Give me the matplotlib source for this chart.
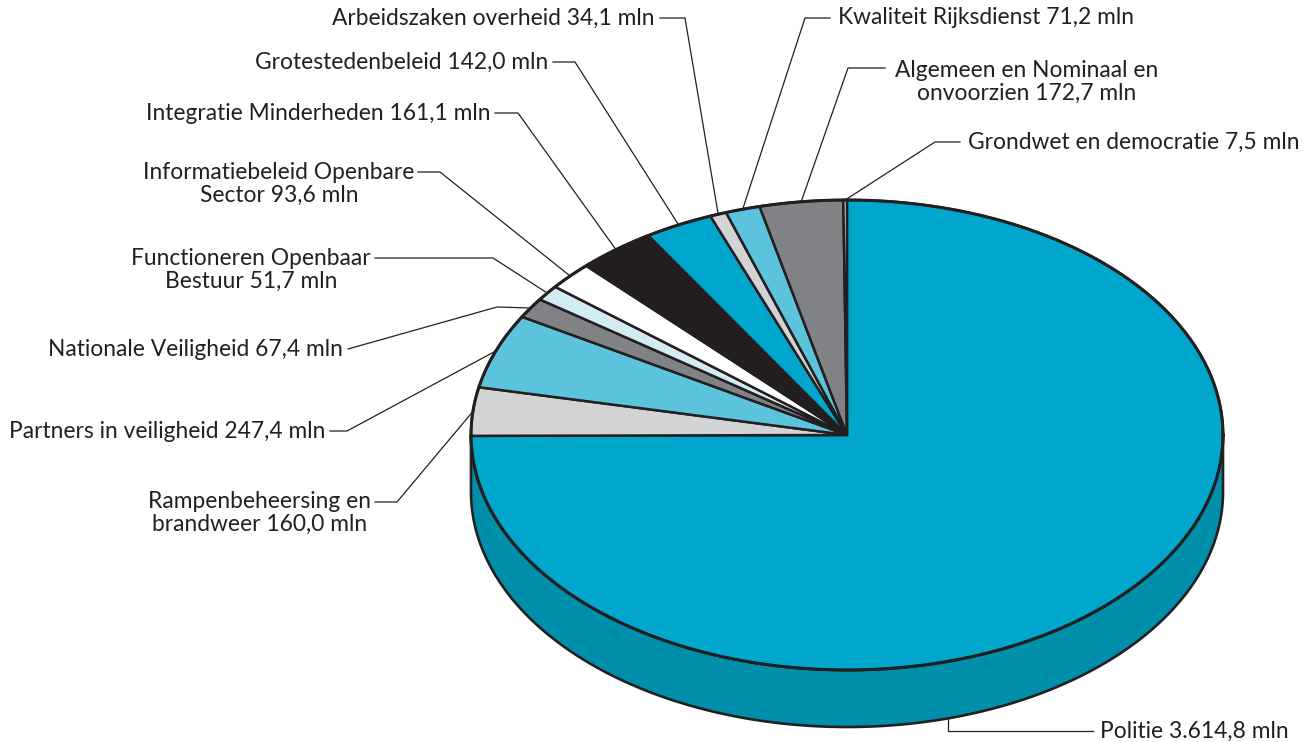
import numpy as np
import matplotlib.pyplot as plt
from matplotlib.patches import Polygon

# Begroting BZK, bedragen in mln euro
names = ["Politie", "Rampenbeheersing en\nbrandweer", "Partners in veiligheid",
         "Nationale Veiligheid", "Functioneren Openbaar\nBestuur",
         "Informatiebeleid Openbare\nSector", "Integratie Minderheden",
         "Grotestedenbeleid", "Arbeidszaken overheid", "Kwaliteit Rijksdienst",
         "Algemeen en Nominaal en\nonvoorzien", "Grondwet en democratie"]
values = [3614.8, 160.0, 247.4, 67.4, 51.7, 93.6, 161.1, 142.0, 34.1, 71.2, 172.7, 7.5]
colors = ["#00a6cb", "#d1d3d4", "#5cc3dc", "#808285", "#d3ecf4", "#ffffff",
          "#231f20", "#00a6cb", "#d1d3d4", "#5cc3dc", "#808285", "#d1d3d4"]
side_color = "#008fab"
ink = "#231f20"

# pie geometry in pixels
cx, cy = 847, 435
rx, ry = 376, 235
depth = 57

# label layout: text anchor, alignment, elbow points of leader line
label_pos = [(1100, 731), (260, 513), (325, 431), (343, 350), (251, 270),
             (279, 184), (490, 113), (548, 62), (655, 18), (838, 18),
             (1027, 82), (968, 142)]
label_ha = ["left", "center", "right", "right", "center", "center", "right",
            "right", "right", "left", "center", "left"]
elbows = [[(1093, 731), (948, 731)], [(375, 502), (397, 502)],
          [(330, 431), (347, 431)], [(348, 349), (497, 307)],
          [(375, 258), (493, 258)], [(418, 172), (440, 172)],
          [(495, 113), (518, 113)], [(553, 62), (575, 62)],
          [(660, 18), (685, 18)], [(830, 18), (805, 18)],
          [(885, 68), (848, 68)], [(960, 142), (935, 142)]]


def fmt(v):
    s = f"{v:,.1f}"
    return s.replace(",", "X").replace(".", ",").replace("X", ".")


def rim(t):
    return cx + rx * np.cos(t), cy - ry * np.sin(t)


plt.rcParams['font.family'] = ['Lato', 'DejaVu Sans']
fig = plt.figure(figsize=(13.13, 7.42), dpi=100)
ax = fig.add_axes([0, 0, 1, 1])
ax.set_xlim(0, 1313)
ax.set_ylim(742, 0)
ax.axis("off")

# side of the pie (front half only)
t = np.linspace(np.pi, 2 * np.pi, 200)
xs, ys = rim(t)
side = np.vstack([np.column_stack([xs, ys]),
                  np.column_stack([xs[::-1], ys[::-1] + depth])])
ax.add_patch(Polygon(side, closed=True, fc=side_color, ec=ink, lw=1.9, zorder=1))

# top face, clockwise from 12 o'clock
total = sum(values)
angles = 360.0 * np.array(values) / total
start = 90.0
mids = []
for v, a, c in zip(values, angles, colors):
    t1 = start - a
    tt = np.radians(np.linspace(start, t1, max(int(a * 2), 3)))
    px, py = rim(tt)
    pts = np.vstack([[cx, cy], np.column_stack([px, py])])
    ax.add_patch(Polygon(pts, closed=True, fc=c, ec=ink, lw=1.8,
                         joinstyle="miter", zorder=2))
    mids.append(np.radians(start - a / 2))
    start = t1

# outer rim outline
tt = np.linspace(0, 2 * np.pi, 400)
ox, oy = rim(tt)
ax.plot(ox, oy, color=ink, lw=2.2, zorder=3)

# labels and leader lines
for i, (n, v) in enumerate(zip(names, values)):
    pts = list(elbows[i])
    if i == 0:
        # Politie points at the bottom of the side
        x0 = pts[-1][0]
        yb = cy + depth + ry * np.sqrt(1 - ((x0 - cx) / rx) ** 2)
        pts.append((x0, yb))
    else:
        pts.append(rim(mids[i]))
    pts = np.array(pts)
    ax.plot(pts[:, 0], pts[:, 1], color=ink, lw=0.9, zorder=4)
    x, y = label_pos[i]
    ax.text(x, y, f"{n} {fmt(v)} mln", ha=label_ha[i], va="center",
            multialignment="center", fontsize=16.4, color=ink,
            linespacing=1.15, zorder=5)

fig.savefig("out.png", dpi=100)
